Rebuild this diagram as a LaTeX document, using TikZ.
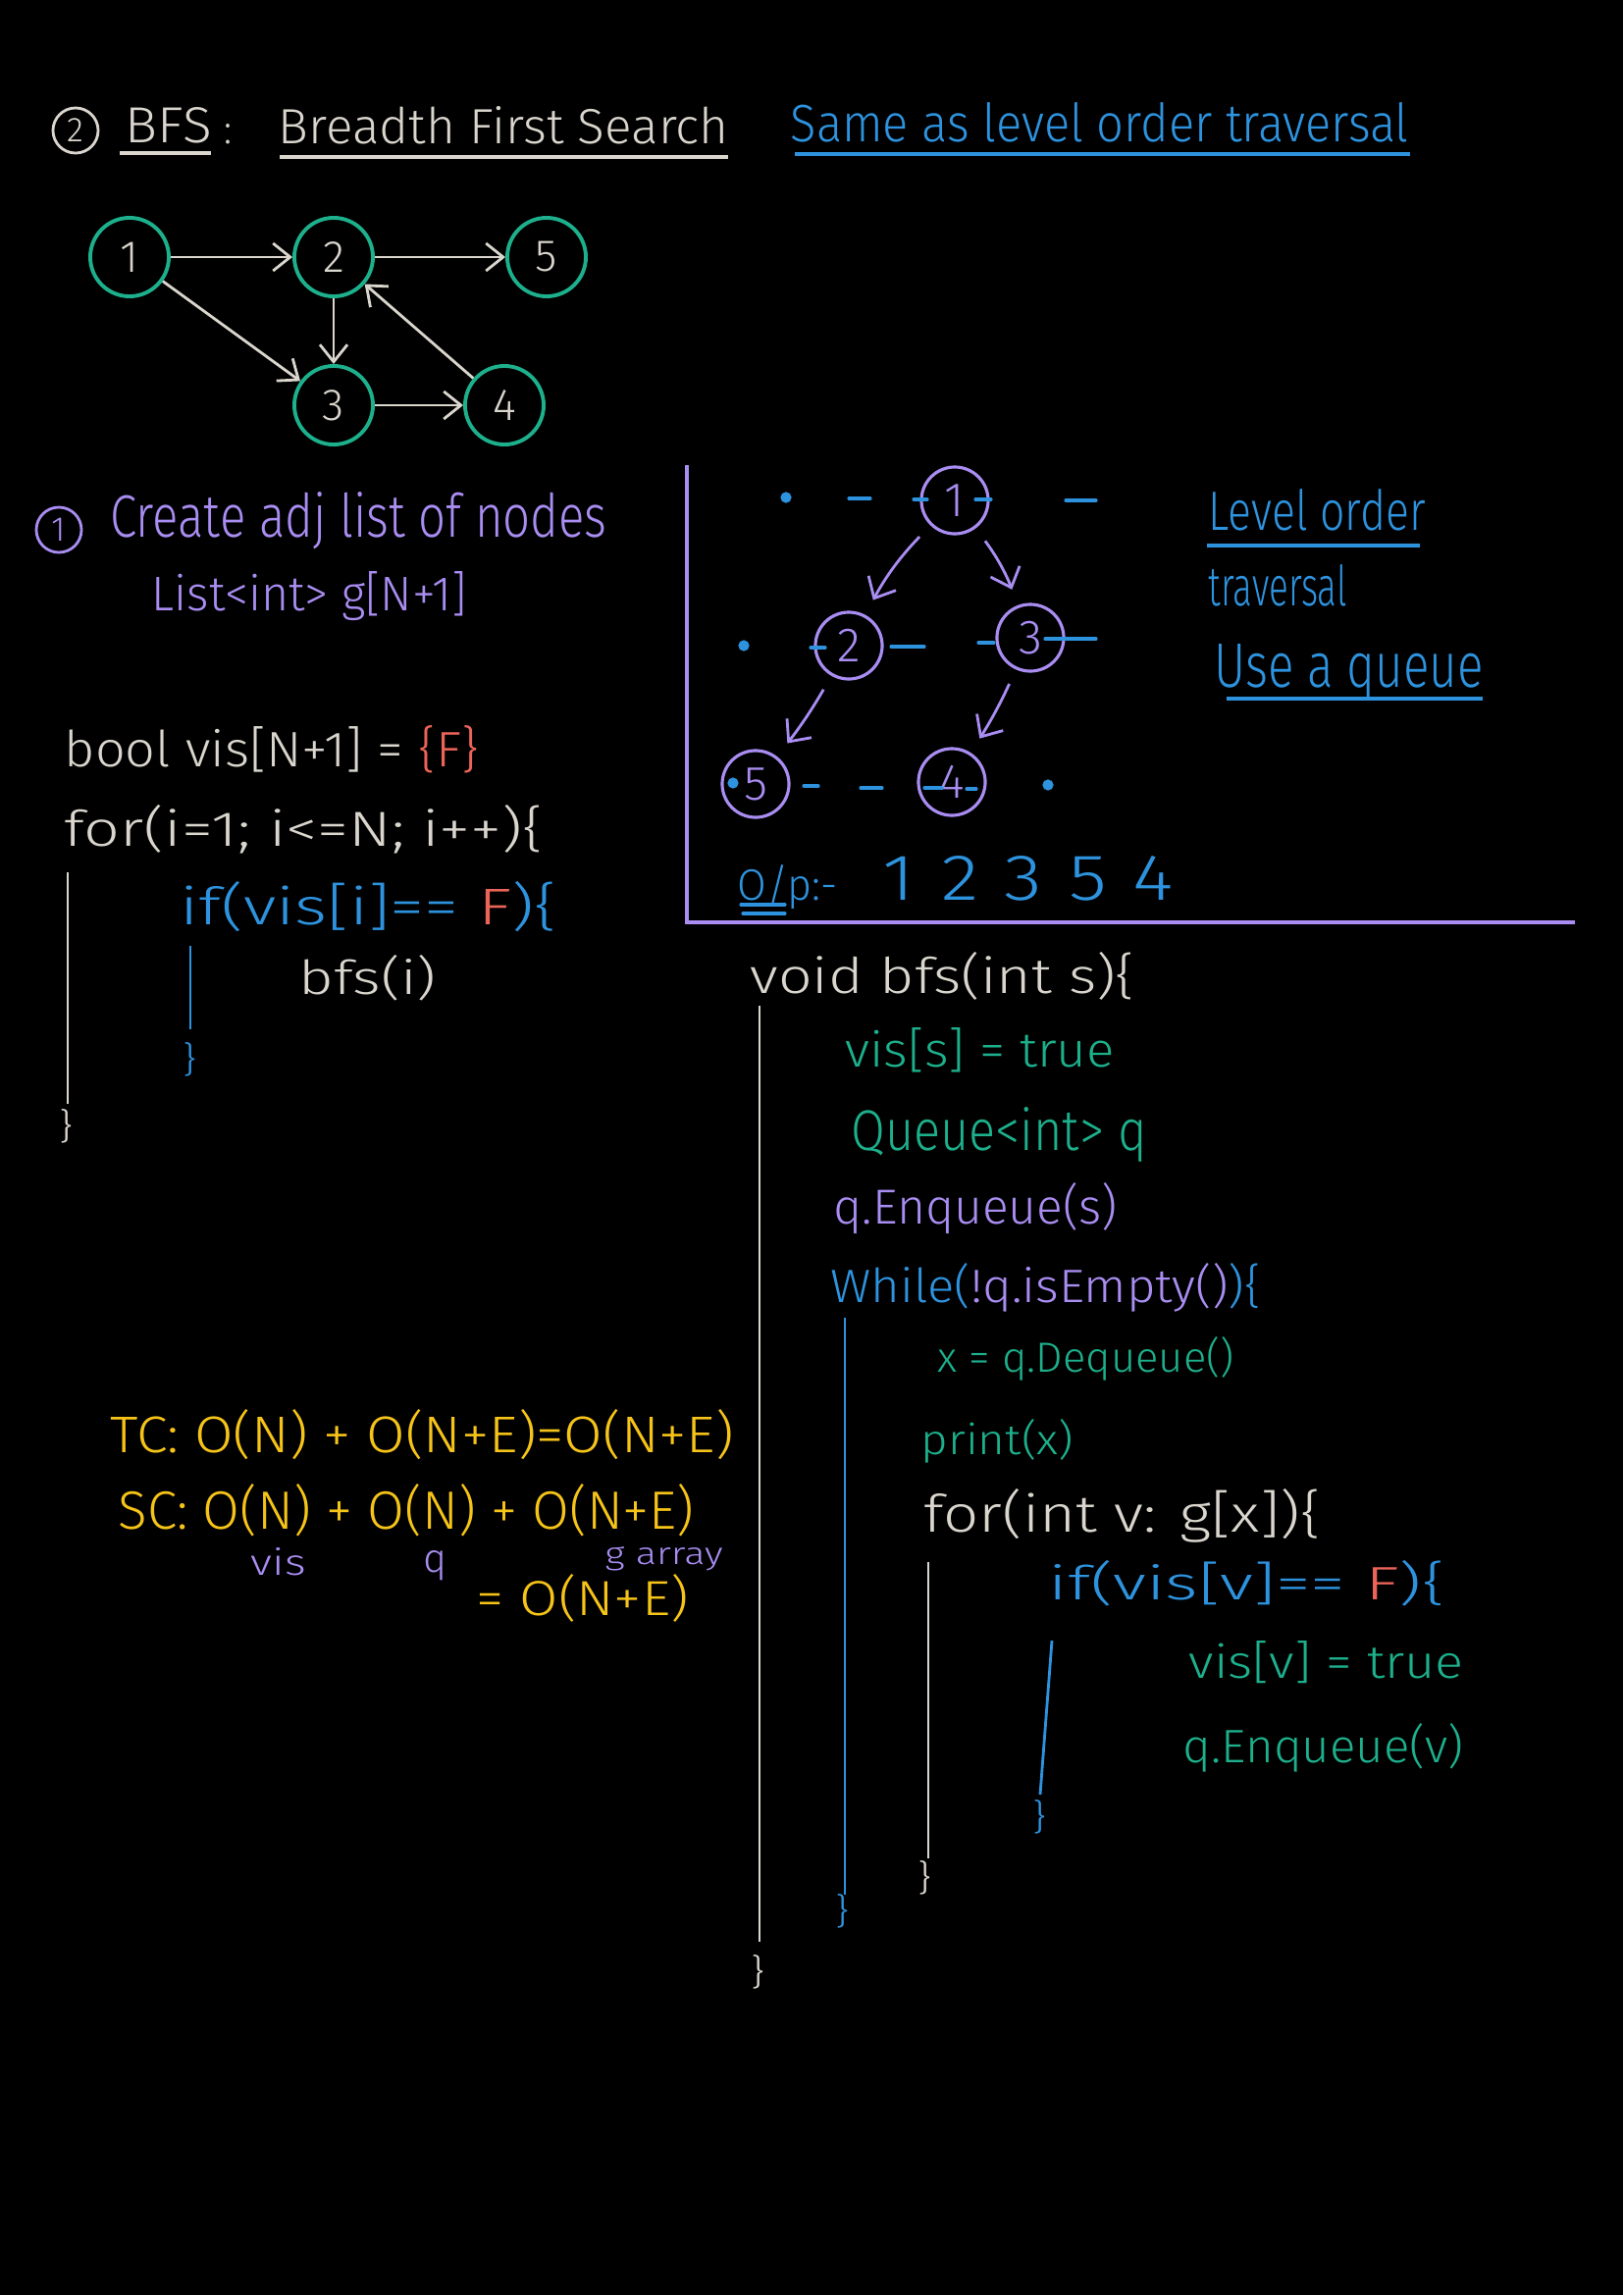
\documentclass[tikz,border=0pt]{standalone}
\usepackage{fontspec}
\setmainfont{Fira Sans}[UprightFont={* Light}]
\usetikzlibrary{arrows.meta}
\definecolor{gw}{HTML}{DAD6CE}
\definecolor{tl}{HTML}{1DB08C}
\definecolor{pu}{HTML}{A98DF2}
\definecolor{bl}{HTML}{2E93DE}
\definecolor{rd}{HTML}{EC6459}
\definecolor{yl}{HTML}{F6C418}
\newlength\pxu \setlength\pxu{0.01cm}
% width, height (above baseline) in reference pixels
\newcommand\hw[3]{\resizebox{#1\pxu}{#2\pxu}{#3}}
\begin{document}
\begin{tikzpicture}[x=0.01cm,y=-0.01cm,
  txt/.style={inner sep=0pt, anchor=base west},
  gnode/.style={circle, draw=tl, line width=1.1pt, minimum size=0.8cm, inner sep=0pt, text=gw, font=\fontsize{13}{15}\selectfont},
  tnode/.style={circle, draw=pu, line width=0.9pt, minimum size=0.68cm, inner sep=0pt, text=pu, font=\fontsize{14}{16}\selectfont},
  cnum/.style={circle, line width=0.8pt, minimum size=0.46cm, inner sep=0pt, font=\fontsize{10}{12}\selectfont},
  garrow/.style={draw=gw, line width=0.8pt, -{Straight Barb[length=5pt,width=8pt]}},
  parrow/.style={draw=pu, line width=0.8pt, -{Straight Barb[length=5pt,width=9pt]}, shorten <=0.16cm, shorten >=0.17cm},
  dsh/.style={draw=bl, line width=0.9pt, line cap=round},
  vline/.style={line width=0.8pt},
  uline/.style={line width=1.3pt}
]
\fill[black] (0,0) rectangle (1654,2339);

% ---------- title ----------
\node[cnum, draw=gw, text=gw] (c2) at (77,133) {2};
\node[txt, text=gw] (bfs) at (127,146) {\hw{88}{36}{BFS}};
\node[txt, text=gw] (colon) at (228,146) {\hw{8}{20}{:}};
\node[txt, text=gw] (bfs2) at (283,146) {\hw{459}{38}{Breadth First Search}};
\node[txt, text=bl] (same) at (805,144) {\hw{630}{40}{Same as level order traversal}};
\draw[uline, gw] (122,156) -- (215,156);
\draw[uline, gw] (285,160) -- (742,160);
\draw[uline, bl] (810,157) -- (1437,157);

% ---------- graph ----------
\node[gnode] (g1) at (132,262) {1};
\node[gnode] (g2) at (340,262) {2};
\node[gnode] (g5) at (557,262) {5};
\node[gnode] (g3) at (340,413) {3};
\node[gnode] (g4) at (514,413) {4};
\draw[garrow] (g1) -- (g2);
\draw[garrow] (g2) -- (g5);
\draw[garrow] (g2) -- (g3);
\draw[garrow] (g1) -- (g3);
\draw[garrow] (g3) -- (g4);
\draw[garrow] (g4) -- (g2);

% ---------- left panel ----------
\node[cnum, draw=pu, text=pu] (c1) at (60,540) {1};
\node[txt, text=pu] (create) at (112,547) {\hw{506}{46}{Create adj list of nodes}};
\node[txt, text=pu] (list) at (154,622) {\hw{321}{40}{List<int> g[N+1]}};
\node[txt, text=gw] (boolv) at (65,781) {\hw{422}{42}{bool vis[N+1] = \textcolor{rd}{\{F\}}}};
\node[txt, text=gw] (for1) at (65,862) {\hw{488}{42}{for(i=1; i<=N; i++)\{}};
\draw[vline, gw] (69,889) -- (69,1125);
\node[txt, text=gw] (cb1) at (60,1160) {\hw{14}{30}{\}}};
\node[txt, text=bl] (if1) at (183,942) {\hw{384}{44}{if(vis[i]== \textcolor{rd}{F})\{}};
\node[txt, text=gw] (bfsi) at (304,1013) {\hw{140}{40}{bfs(i)}};
\draw[vline, bl] (194,964) -- (194,1049);
\node[txt, text=bl] (cb2) at (186,1092) {\hw{14}{30}{\}}};

% ---------- complexity ----------
\node[txt, text=yl] (tc) at (112,1480) {\hw{635}{44}{TC: O(N) + O(N+E)=O(N+E)}};
\node[txt, text=yl] (sc) at (120,1558) {\hw{587}{46}{SC: O(N) + O(N) + O(N+E)}};
\node[txt, text=pu] (svis) at (255,1605) {\hw{56}{28}{vis}};
\node[txt, text=pu] (sq) at (431,1602) {\hw{24}{22}{q}};
\node[txt, text=pu] (sg) at (616,1594) {\hw{120}{18}{g array}};
\node[txt, text=yl] (sc2) at (485,1646) {\hw{216}{42}{= O(N+E)}};

% ---------- tree panel ----------
\draw[vline, pu, line width=1.1pt] (700,474) -- (700,940) -- (1605,940);
\node[tnode] (t1) at (973,510) {1};
\node[tnode] (t2) at (865,658) {2};
\node[tnode] (t3) at (1050,650) {3};
\node[tnode] (t5) at (770,799) {5};
\node[tnode] (t4) at (970,797) {4};
\draw[parrow] (t1) to[bend right=8] (t2);
\draw[parrow] (t1) to[bend left=8] (t3);
\draw[parrow] (t2) to[bend left=4] (t5);
\draw[parrow] (t3) to[bend left=4] (t4);
% level dashes
\fill[bl] (801,507) circle (1.6pt);
\draw[dsh] (865,508) -- (887,508);
\draw[dsh] (931,509) -- (945,509);
\draw[dsh] (994,509) -- (1010,509);
\draw[dsh] (1086,510) -- (1117,510);
\fill[bl] (758,658) circle (1.6pt);
\draw[dsh] (826,660) -- (841,660);
\draw[dsh] (908,659) -- (942,659);
\draw[dsh] (997,655) -- (1013,655);
\draw[dsh] (1065,651) -- (1117,651);
\fill[bl] (747,798) circle (1.6pt);
\draw[dsh] (819,801) -- (834,801);
\draw[dsh] (877,803) -- (899,803);
\draw[dsh] (942,803) -- (960,803);
\draw[dsh] (985,804) -- (995,804);
\fill[bl] (1068,800) circle (1.6pt);

\node[txt, text=bl] (lvl) at (1231,540) {\hw{221}{42}{Level order}};
\draw[uline, bl] (1230,556) -- (1447,556);
\node[txt, text=bl] (trav) at (1231,617) {\hw{141}{42}{traversal}};
\node[txt, text=bl] (useq) at (1237,700) {\hw{274}{44}{Use a queue}};
\draw[uline, bl] (1250,712) -- (1511,712);
\node[txt, text=bl] (op) at (751,917) {\hw{102}{36}{O/p:-}};
\draw[dsh] (755,922) -- (800,922);
\draw[dsh] (757,931) -- (800,931);
\node[txt, text=bl] (outseq) at (899,917) {\hw{296}{45}{1\,\,2\,\,3\,\,5\,\,4}};

% ---------- bfs function ----------
\node[txt, text=gw] (voidb) at (764,1012) {\hw{392}{42}{void bfs(int s)\{}};
\draw[vline, gw] (774,1025) -- (774,1979);
\node[txt, text=gw] (cb3) at (765,2022) {\hw{14}{30}{\}}};
\node[txt, text=tl] (viss) at (861,1087) {\hw{274}{40}{vis[s] = true}};
\node[txt, text=tl] (queue) at (867,1172) {\hw{301}{44}{Queue<int> q}};
\node[txt, text=pu] (enq) at (849,1247) {\hw{289}{42}{q.Enqueue(s)}};
\node[txt, text=bl] (whl) at (846,1327) {\hw{438}{40}{While(\textcolor{pu}{!q.isEmpty()})\{}};
\draw[vline, bl] (861,1343) -- (861,1931);
\node[txt, text=bl] (cb4) at (851,1960) {\hw{14}{30}{\}}};
\node[txt, text=tl] (deq) at (955,1398) {\hw{302}{36}{x = q.Dequeue()}};
\node[txt, text=tl] (prt) at (938,1482) {\hw{155}{36}{print(x)}};
\node[txt, text=gw] (for2) at (941,1561) {\hw{404}{44}{for(int v: g[x])\{}};
\draw[vline, gw] (946,1592) -- (946,1894);
\node[txt, text=gw] (cb5) at (935,1926) {\hw{14}{30}{\}}};
\node[txt, text=bl] (if2) at (1068,1630) {\hw{404}{40}{if(vis[v]== \textcolor{rd}{F})\{}};
\draw[vline, bl] (1072,1672) -- (1060,1829);
\node[txt, text=bl] (cb6) at (1052,1864) {\hw{14}{30}{\}}};
\node[txt, text=tl] (visv) at (1211,1710) {\hw{280}{38}{vis[v] = true}};
\node[txt, text=tl] (enqv) at (1205,1796) {\hw{286}{40}{q.Enqueue(v)}};
\end{tikzpicture}
\end{document}
